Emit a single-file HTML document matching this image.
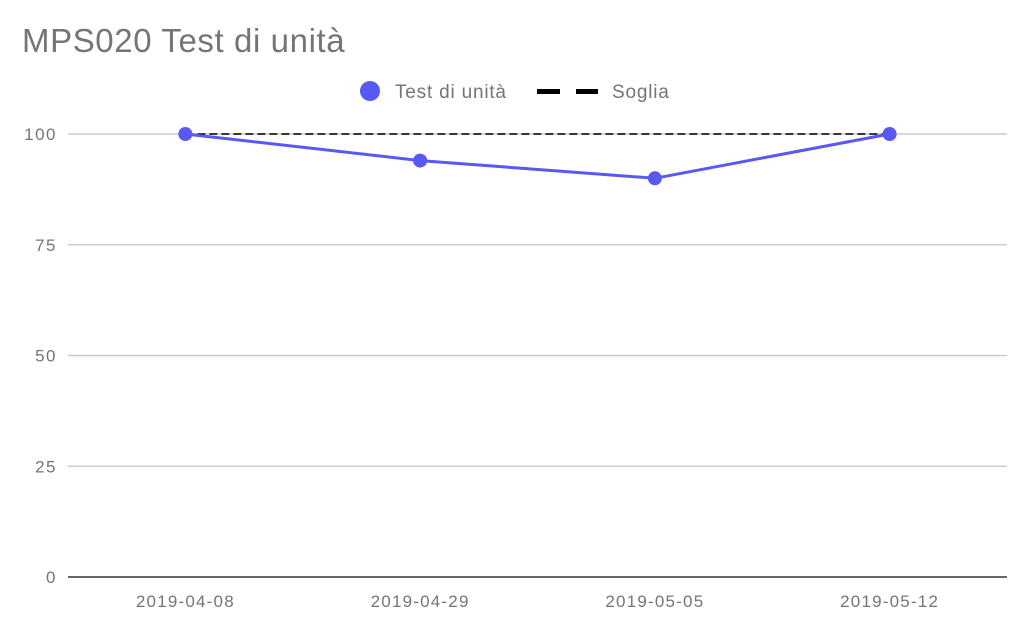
<!DOCTYPE html>
<html><head><meta charset="utf-8"><style>
body{margin:0;background:#fff;width:1025px;height:631px;overflow:hidden;font-family:"Liberation Sans",sans-serif}
</style></head><body>
<svg width="1025" height="631">
<text x="22" y="52" font-size="33" letter-spacing="0.6" fill="#757575">MPS020 Test di unità</text>
<g>
<circle cx="370" cy="91" r="10" fill="#5858f2"/>
<text x="395" y="98" font-size="19" letter-spacing="0.8" fill="#757575">Test di unità</text>
<rect x="537" y="89" width="23" height="5" fill="#000"/>
<rect x="576" y="89" width="22" height="5" fill="#000"/>
<text x="612" y="98" font-size="19" letter-spacing="0.8" fill="#757575">Soglia</text>
</g>
<g id="grid"></g><g id="marks"></g>
</svg>
<script>
const categories=["2019-04-08","2019-04-29","2019-05-05","2019-05-12"];
const testValues=[100,94,90,100];
const thresholdValues=[100,100,100,100];
const yTicks=[0,25,50,75,100];
const NS="http://www.w3.org/2000/svg";
const x0=68,x1=1007,y0=577,yTop=134;
const step=(x1-x0)/categories.length;
const X=i=>x0+step*(i+0.5);
const Y=v=>y0-(y0-yTop)*v/100;
function mk(t,a,p){const e=document.createElementNS(NS,t);for(const k in a)e.setAttribute(k,a[k]);p.appendChild(e);return e;}
const grid=document.getElementById('grid'),marks=document.getElementById('marks');
yTicks.forEach(v=>{
 const l=mk('line',{x1:x0,x2:x1,y1:Y(v),y2:Y(v),stroke:v===0?'#333':'#ccc','stroke-width':1.5},grid);
 
 
 const t=mk('text',{x:57,y:Y(v)+6,'text-anchor':'end','font-size':17,'letter-spacing':1.5,fill:'#757575'},grid);
 t.textContent=v;
 
 
});
categories.forEach((c,i)=>{
 const t=mk('text',{x:X(i),y:607,'text-anchor':'middle','font-size':17,'letter-spacing':1.2,fill:'#757575'},grid);
 t.textContent=c;
 
 
});
const tl=mk('polyline',{points:thresholdValues.map((v,i)=>X(i)+','+Y(v)).join(' '),fill:'none',stroke:'#000','stroke-width':1.5,'stroke-dasharray':'8 4'},marks);


const sl=mk('polyline',{points:testValues.map((v,i)=>X(i)+','+Y(v)).join(' '),fill:'none',stroke:'#5858f2','stroke-width':3},marks);


testValues.forEach((v,i)=>{
 const c=mk('circle',{cx:X(i),cy:Y(v),r:7,fill:'#5858f2'},marks);
 
 
});
</script>
</body></html>
